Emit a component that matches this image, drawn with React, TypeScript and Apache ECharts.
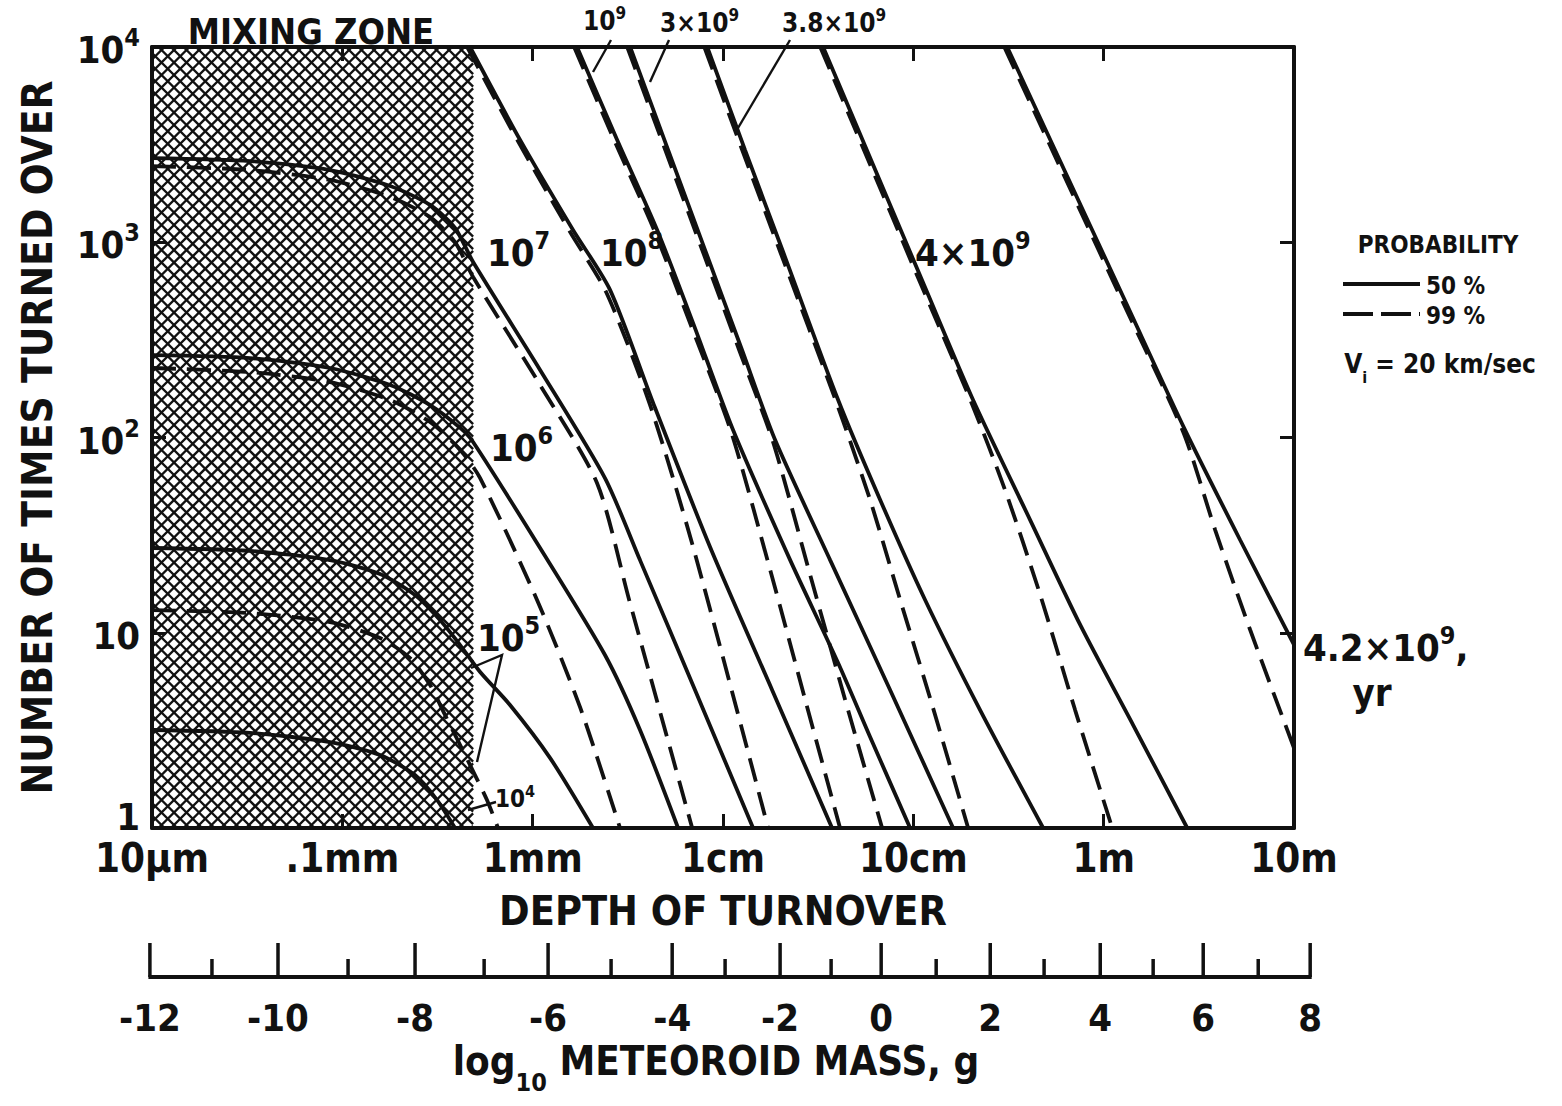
import React, { useEffect, useRef } from "react";
import * as echarts from "echarts";

const FONT = "'DejaVu Sans Condensed','Liberation Sans Narrow','DejaVu Sans',sans-serif";
const INK = "#111111";

// Depth axis: log10 of depth of turnover (metres)
const depthTickValues = [-5, -4, -3, -2, -1, 0, 1];
const depthTickLabels = ["10µm", ".1mm", "1mm", "1cm", "10cm", "1m", "10m"];
// Turnover axis: log10 of number of times turned over
const turnTickValues = [0, 1, 2, 3, 4];
const turnTickBase = ["1", "10", "10", "10", "10"];
const turnTickExp = ["", "", "2", "3", "4"];

// Mixing zone (log10 depth span)
const mixingZone = [-5, -3.313];

// Secondary scale: log10 meteoroid mass (g) and the log10 depth each tick sits at
const massValues = [-12, -11, -10, -9, -8, -7, -6, -5, -4, -3, -2, -1, 0, 1, 2, 3, 4, 5, 6, 7, 8];
const massTickDepth = [-5.011, -4.685, -4.338, -3.97, -3.618, -3.255, -2.919, -2.588, -2.267, -1.989, -1.7, -1.432, -1.169, -0.88, -0.596, -0.313, -0.018, 0.26, 0.523, 0.812, 1.085];

// Curves: [log10 depth (m), log10 number of turnovers]; p50 = 50 % probability, p99 = 99 %
const age1e4_p50 = [[-5, 0.502], [-4.485, 0.487], [-4.065, 0.44], [-3.802, 0.374], [-3.618, 0.271], [-3.502, 0.143], [-3.408, 0]];
const age1e5_p50 = [[-5, 1.434], [-4.485, 1.419], [-4.065, 1.372], [-3.802, 1.301], [-3.618, 1.193], [-3.487, 1.065], [-3.381, 0.937], [-3.276, 0.799], [-3.119, 0.63], [-2.908, 0.358], [-2.683, 0]];
const age1e5_p99 = [[-5, 1.116], [-4.485, 1.101], [-4.065, 1.055], [-3.802, 0.973], [-3.644, 0.87], [-3.539, 0.732], [-3.46, 0.578], [-3.381, 0.425], [-3.303, 0.271], [-3.24, 0.143], [-3.182, 0]];
const age1e6_p50 = [[-5, 2.422], [-4.485, 2.407], [-4.065, 2.356], [-3.749, 2.269], [-3.539, 2.166], [-3.381, 2.049], [-3.313, 1.977], [-2.961, 1.434], [-2.62, 0.886], [-2.436, 0.502], [-2.236, 0]];
const age1e6_p99 = [[-5, 2.356], [-4.485, 2.335], [-4.065, 2.284], [-3.749, 2.192], [-3.539, 2.079], [-3.381, 1.936], [-3.276, 1.792], [-2.977, 1.168], [-2.751, 0.619], [-2.541, 0]];
const age1e7_p50 = [[-5, 3.431], [-4.485, 3.416], [-4.065, 3.37], [-3.749, 3.288], [-3.539, 3.191], [-3.408, 3.073], [-3.313, 2.899], [-2.961, 2.346], [-2.62, 1.792], [-2.436, 1.372], [-2.147, 0.707], [-1.842, 0]];
const age1e7_p99 = [[-5, 3.39], [-4.485, 3.37], [-4.065, 3.319], [-3.749, 3.232], [-3.539, 3.129], [-3.408, 3.001], [-3.313, 2.822], [-2.961, 2.269], [-2.662, 1.767], [-2.493, 1.168], [-2.162, 0]];
const age1e8_p50 = [[-3.329, 4], [-3.066, 3.524], [-2.788, 3.063], [-2.593, 2.755], [-2.367, 2.177], [-2.068, 1.439], [-1.742, 0.707], [-1.427, 0]];
const age1e8_p99 = [[-3.344, 4], [-3.081, 3.524], [-2.803, 3.052], [-2.614, 2.745], [-2.383, 2.166], [-2.157, 1.439], [-1.763, 0]];
const age1e9_p50 = [[-2.767, 4], [-2.556, 3.524], [-2.346, 3.063], [-2.157, 2.586], [-1.947, 2.038], [-1.647, 1.372], [-1.395, 0.845], [-1.227, 0.466], [-1.017, 0]];
const age1e9_p99 = [[-2.782, 4], [-2.572, 3.524], [-2.362, 3.063], [-2.173, 2.586], [-1.957, 2.028], [-1.752, 1.321], [-1.568, 0.656], [-1.385, 0]];
const age3e9_p50 = [[-2.488, 4], [-2.288, 3.472], [-2.094, 2.96], [-1.9, 2.448], [-1.726, 1.987], [-1.437, 1.372], [-1.122, 0.707], [-0.791, 0]];
const age3e9_p99 = [[-2.503, 4], [-2.303, 3.472], [-2.109, 2.96], [-1.915, 2.448], [-1.737, 1.977], [-1.542, 1.296], [-1.358, 0.656], [-1.164, 0]];
const age38e9_p50 = [[-2.083, 4], [-1.884, 3.472], [-1.684, 2.95], [-1.395, 2.192], [-1.174, 1.68], [-0.938, 1.168], [-0.649, 0.604], [-0.318, 0]];
const age38e9_p99 = [[-2.098, 4], [-1.899, 3.472], [-1.699, 2.95], [-1.405, 2.182], [-1.227, 1.68], [-1.069, 1.168], [-0.901, 0.63], [-0.712, 0]];
const age4e9_p50 = [[-1.474, 4], [-1.211, 3.396], [-0.948, 2.791], [-0.686, 2.192], [-0.386, 1.577], [-0.123, 1.04], [0.155, 0.527], [0.439, 0]];
const age4e9_p99 = [[-1.489, 4], [-1.226, 3.396], [-0.963, 2.791], [-0.696, 2.182], [-0.518, 1.731], [-0.333, 1.193], [-0.15, 0.604], [0.045, 0]];
const age42e9_p50 = [[-0.507, 4], [-0.202, 3.36], [0.113, 2.699], [0.428, 2.038], [0.717, 1.475], [1.001, 0.937]];
const age42e9_p99 = [[-0.522, 4], [-0.217, 3.36], [0.098, 2.699], [0.418, 2.028], [0.586, 1.526], [0.77, 1.014], [1.0, 0.41]];

const curves50 = [age1e4_p50, age1e5_p50, age1e6_p50, age1e7_p50, age1e8_p50, age1e9_p50, age3e9_p50, age38e9_p50, age4e9_p50, age42e9_p50];
const curves99 = [age1e5_p99, age1e6_p99, age1e7_p99, age1e8_p99, age1e9_p99, age3e9_p99, age38e9_p99, age4e9_p99, age42e9_p99];

function rich(size: number) {
  const base = { fontWeight: "bold", fontFamily: FONT, fill: INK, color: INK };
  return {
    n: { ...base, fontSize: size, lineHeight: Math.round(size * 1.15), verticalAlign: "bottom" },
    s: { ...base, fontSize: Math.round(size * 0.66), lineHeight: Math.round(size * 0.45), verticalAlign: "top" },
    a: { ...base, fontSize: size, lineHeight: Math.round(size * 1.05), verticalAlign: "top" },
    u: { ...base, fontSize: Math.round(size * 0.62), lineHeight: Math.round(size * 0.6), padding: [Math.round(size * 0.72), 0, 0, 0], verticalAlign: "top" },
    one: { ...base, fontSize: size, lineHeight: Math.round(size * 1.15), padding: [0, 0, 22, 0] },
  };
}

function label(x: number, y: number, text: string, size: number, align = "left") {
  return {
    type: "text",
    x,
    y,
    silent: true,
    z: 20,
    style: { text, rich: rich(size), fill: INK, align, verticalAlign: "middle", fontFamily: FONT, fontWeight: "bold", fontSize: size },
  };
}

function leader(points: number[][]) {
  return { type: "polyline", silent: true, z: 20, shape: { points }, style: { stroke: INK, lineWidth: 2.4, fill: null } };
}

export default function App() {
  const ref = useRef<HTMLDivElement>(null);
  useEffect(() => {
    const chart = echarts.init(ref.current!, undefined, { renderer: "svg" });

    const lineSeries: any[] = [];
    curves50.forEach((d) =>
      lineSeries.push({
        type: "line", xAxisIndex: 0, yAxisIndex: 0, data: d, showSymbol: false, symbol: "none", smooth: 0.25,
        silent: true, z: 3, lineStyle: { color: INK, width: 3.8, type: "solid" },
      })
    );
    curves99.forEach((d) =>
      lineSeries.push({
        type: "line", xAxisIndex: 0, yAxisIndex: 0, data: d, showSymbol: false, symbol: "none", smooth: 0.25,
        silent: true, z: 3, lineStyle: { color: INK, width: 3.8, type: [24, 11] },
      })
    );

    const hatch = {
      type: "custom",
      xAxisIndex: 0,
      yAxisIndex: 0,
      silent: true,
      z: 1,
      data: [[mixingZone[0], 4, mixingZone[1], 0]],
      encode: { x: [0, 2], y: [1, 3] },
      renderItem: (params: any, api: any) => {
        const p0 = api.coord([api.value(0), api.value(1)]);
        const p1 = api.coord([api.value(2), api.value(3)]);
        const x0 = p0[0], y0 = p0[1], x1 = p1[0], y1 = p1[1];
        const step = 12.5;
        const children: any[] = [];
        const st = { stroke: INK, lineWidth: 2.4 };
        for (let c = x0 + y0; c <= x1 + y1; c += step) {
          const xa = Math.max(x0, c - y1), xb = Math.min(x1, c - y0);
          if (xb > xa) children.push({ type: "line", shape: { x1: xa, y1: c - xa, x2: xb, y2: c - xb }, style: st });
        }
        for (let c = x0 - y1; c <= x1 - y0; c += step) {
          const xa = Math.max(x0, c + y0), xb = Math.min(x1, c + y1);
          if (xb > xa) children.push({ type: "line", shape: { x1: xa, y1: xa - c, x2: xb, y2: xb - c }, style: st });
        }
        return { type: "group", children };
      },
    };

    const massAxis = {
      type: "custom",
      xAxisIndex: 2,
      yAxisIndex: 2,
      silent: true,
      clip: false,
      data: massValues.map((m, i) => [massTickDepth[i], 0, m]),
      encode: { x: 0, y: 1 },
      renderItem: (params: any, api: any) => {
        const i = params.dataIndex;
        const m = massValues[i];
        const p = api.coord([massTickDepth[i], 0]);
        const major = m % 2 === 0;
        const len = major ? 34 : 18;
        const children: any[] = [
          { type: "line", shape: { x1: p[0], y1: p[1], x2: p[0], y2: p[1] - len }, style: { stroke: INK, lineWidth: 3.5 } },
        ];
        if (i < massValues.length - 1) {
          const q = api.coord([massTickDepth[i + 1], 0]);
          children.push({ type: "line", shape: { x1: p[0] - 1.5, y1: p[1], x2: q[0] + 1.5, y2: q[1] }, style: { stroke: INK, lineWidth: 4 } });
        }
        if (major) {
          children.push({
            type: "text",
            x: p[0],
            y: p[1] + 22,
            style: { text: String(m), fill: INK, fontSize: 38, fontWeight: "bold", fontFamily: FONT, align: "center", verticalAlign: "top" },
          });
        }
        return { type: "group", children };
      },
    };

    const axisFont = { color: INK, fontFamily: FONT, fontWeight: "bold" };
    const frameAxis = {
      axisLine: { onZero: false, lineStyle: { color: INK, width: 4 } },
      axisTick: { inside: true, length: 14, lineStyle: { color: INK, width: 3 } },
      splitLine: { show: false },
    };

    const option: any = {
      animation: false,
      backgroundColor: "#ffffff",
      grid: [
        { left: 152, top: 47, width: 1142, height: 781 },
        { left: 152, top: 942, width: 1142, height: 35 },
      ],
      xAxis: [
        {
          gridIndex: 0, type: "value", min: -5, max: 1, interval: 1, position: "bottom",
          ...frameAxis,
          axisLabel: {
            ...axisFont, fontSize: 40, margin: 10,
            formatter: (v: number) => depthTickLabels[depthTickValues.indexOf(v)] ?? "",
          },
          name: "DEPTH OF TURNOVER",
          nameLocation: "middle",
          nameGap: 62,
          nameTextStyle: { ...axisFont, fontSize: 41 },
        },
        {
          gridIndex: 0, type: "value", min: -5, max: 1, interval: 1, position: "top",
          ...frameAxis,
          axisLabel: { show: false },
        },
        { gridIndex: 1, type: "value", min: -5, max: 1, show: false },
      ],
      yAxis: [
        {
          gridIndex: 0, type: "value", min: 0, max: 4, interval: 1, position: "left",
          ...frameAxis,
          axisLabel: {
            ...axisFont, fontSize: 38, margin: 12,
            formatter: (v: number) => {
              const i = turnTickValues.indexOf(v);
              if (i < 0) return "";
              if (v === 0) return `{one|${turnTickBase[i]}}`;
              return turnTickExp[i] ? `{n|${turnTickBase[i]}}{s|${turnTickExp[i]}}` : `{n|${turnTickBase[i]}}`;
            },
            rich: rich(38),
          },
          name: "NUMBER OF TIMES TURNED OVER",
          nameLocation: "middle",
          nameRotate: 90,
          nameGap: 94,
          nameTextStyle: { ...axisFont, fontSize: 42 },
        },
        {
          gridIndex: 0, type: "value", min: 0, max: 4, interval: 1, position: "right",
          ...frameAxis,
          axisLabel: { show: false },
        },
        { gridIndex: 1, type: "value", min: 0, max: 1, show: false },
      ],
      series: [hatch, ...lineSeries, massAxis],
      graphic: [
        label(311, 29, "{n|MIXING ZONE}", 36, "center"),
        label(583, 19, "{n|10}{s|9}", 26),
        label(660, 21, "{n|3×10}{s|9}", 26),
        label(782, 21, "{n|3.8×10}{s|9}", 26),
        leader([[611, 40], [593, 72]]),
        leader([[669, 40], [650, 82]]),
        leader([[790, 40], [738, 128]]),
        label(487, 250, "{n|10}{s|7}", 38),
        label(600, 250, "{n|10}{s|8}", 38),
        label(490, 445, "{n|10}{s|6}", 38),
        label(477, 635, "{n|10}{s|5}", 38),
        leader([[471, 668], [502, 655], [477, 762]]),
        label(495, 797, "{n|10}{s|4}", 24),
        leader([[496, 802], [468, 810]]),
        label(915, 250, "{n|4×10}{s|9}", 38),
        label(1303, 645, "{n|4.2×10}{s|9}{n|,}", 38),
        label(1372, 690, "{n|yr}", 38, "center"),
        label(1438, 243, "{n|PROBABILITY}", 24, "center"),
        { type: "line", silent: true, shape: { x1: 1343, y1: 284, x2: 1420, y2: 284 }, style: { stroke: INK, lineWidth: 4 } },
        label(1426, 284, "{n|50 %}", 24),
        { type: "line", silent: true, shape: { x1: 1343, y1: 314, x2: 1420, y2: 314 }, style: { stroke: INK, lineWidth: 4, lineDash: [30, 8] } },
        label(1426, 314, "{n|99 %}", 24),
        label(1440, 364, "{a|V}{u|i}{a| = 20 km/sec}", 26, "center"),
        label(716, 1062, "{a|log}{u|10}{a| METEOROID MASS, g}", 40, "center"),
      ],
    };

    chart.setOption(option);
    return () => chart.dispose();
  }, []);

  return <div ref={ref} style={{ position: "fixed", left: 0, top: 0, width: 1562, height: 1106, background: "#fff" }} />;
}
